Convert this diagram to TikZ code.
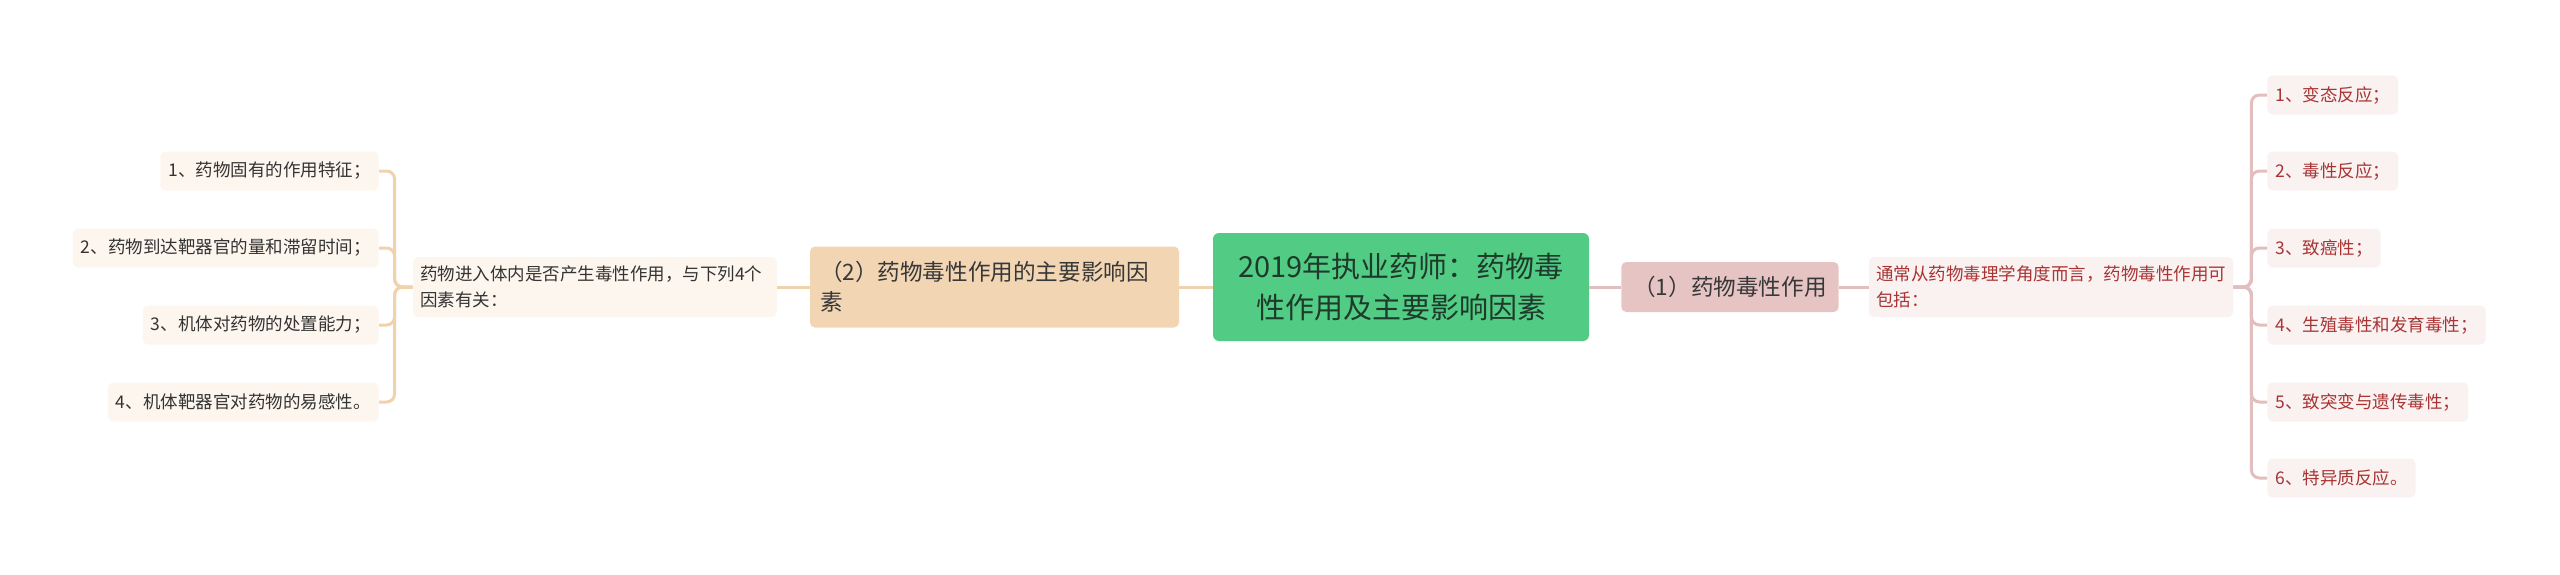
\documentclass[tikz,border=0pt]{standalone}
\usepackage{fontspec}
\newfontfamily\cjk{Noto Sans CJK SC}
\definecolor{rootfill}{HTML}{52CB84}
\definecolor{roottext}{HTML}{1E3A2A}
\definecolor{peach}{HTML}{F2D5B3}
\definecolor{cream}{HTML}{FDF6EE}
\definecolor{peachline}{HTML}{F0D2AC}
\definecolor{rose}{HTML}{E6C4C4}
\definecolor{blush}{HTML}{FAF1F1}
\definecolor{roseline}{HTML}{E3BEBE}
\definecolor{redtext}{HTML}{A83434}
\begin{document}
\begin{tikzpicture}[
        x=0.5pt, y=-0.5pt,
        every node/.style={font=\cjk, inner ysep=0pt},
        rootbox/.style={fill=rootfill, text=roottext, rounded corners=3pt, align=center,
            minimum width=188pt, minimum height=54pt, font=\cjk\fontsize{14.5}{20.5}\selectfont},
        mainl/.style={fill=peach, text=black!78, rounded corners=2.5pt, align=left,
            inner xsep=5pt, text width=174.5pt, minimum height=40.5pt,
            font=\cjk\fontsize{11.3}{15}\selectfont},
        mainr/.style={fill=rose, text=black!78, rounded corners=2.5pt,
            inner xsep=6pt, minimum height=25pt, font=\cjk\fontsize{11.3}{15}\selectfont},
        textl/.style={fill=cream, text=black!80, rounded corners=2.5pt, align=left,
            inner xsep=3.5pt, text width=175pt, minimum height=30pt,
            font=\cjk\fontsize{8.75}{13}\selectfont},
        textr/.style={textl, fill=blush, text=redtext},
        leafl/.style={fill=cream, text=black!80, rounded corners=2.5pt,
            inner xsep=4pt, minimum height=19.5pt, anchor=east,
            font=\cjk\fontsize{8.75}{13}\selectfont},
        leafr/.style={leafl, fill=blush, text=redtext, anchor=west},
        linel/.style={draw=peachline, line width=1.5pt, rounded corners=4pt},
        liner/.style={draw=roseline, line width=1.5pt, rounded corners=4pt}
    ]
        \useasboundingbox (0,0) rectangle (2560,574);

        % Centre
        \node[rootbox] (root) at (1401,287) {2019年执业药师：药物毒\\性作用及主要影响因素};

        % Left branch
        \node[mainl] (m2) at (994.5,287) {（2）药物毒性作用的主要影响因\\素};
        \node[textl] (t2) at (595,287) {药物进入体内是否产生毒性作用，与下列4个\\因素有关：};
        \node[leafl] (a1) at (379,171) {1、药物固有的作用特征；};
        \node[leafl] (a2) at (379,248) {2、药物到达靶器官的量和滞留时间；};
        \node[leafl] (a3) at (379,325) {3、机体对药物的处置能力；};
        \node[leafl] (a4) at (379,402) {4、机体靶器官对药物的易感性。};

        % Right branch
        \node[mainr] (m1) at (1730,287) {（1）药物毒性作用};
        \node[textr] (t1) at (2051,287) {通常从药物毒理学角度而言，药物毒性作用可\\包括：};
        \node[leafr] (b1) at (2267,95) {1、变态反应；};
        \node[leafr] (b2) at (2267,171) {2、毒性反应；};
        \node[leafr] (b3) at (2267,248) {3、致癌性；};
        \node[leafr] (b4) at (2267,325) {4、生殖毒性和发育毒性；};
        \node[leafr] (b5) at (2267,402) {5、致突变与遗传毒性；};
        \node[leafr] (b6) at (2267,478) {6、特异质反应。};

        % Connectors
        \draw[linel] (root.west) -- (m2.east);
        \draw[linel] (m2.west) -- (t2.east);
        \draw[linel] (t2.west) -- ++(-18,0) |- (a1.east);
        \draw[linel] (t2.west) -- ++(-18,0) |- (a2.east);
        \draw[linel] (t2.west) -- ++(-18,0) |- (a3.east);
        \draw[linel] (t2.west) -- ++(-18,0) |- (a4.east);
        \draw[liner] (root.east) -- (m1.west);
        \draw[liner] (m1.east) -- (t1.west);
        \draw[liner] (t1.east) -- ++(18,0) |- (b1.west);
        \draw[liner] (t1.east) -- ++(18,0) |- (b2.west);
        \draw[liner] (t1.east) -- ++(18,0) |- (b3.west);
        \draw[liner] (t1.east) -- ++(18,0) |- (b4.west);
        \draw[liner] (t1.east) -- ++(18,0) |- (b5.west);
        \draw[liner] (t1.east) -- ++(18,0) |- (b6.west);
    \end{tikzpicture}
\end{document}
